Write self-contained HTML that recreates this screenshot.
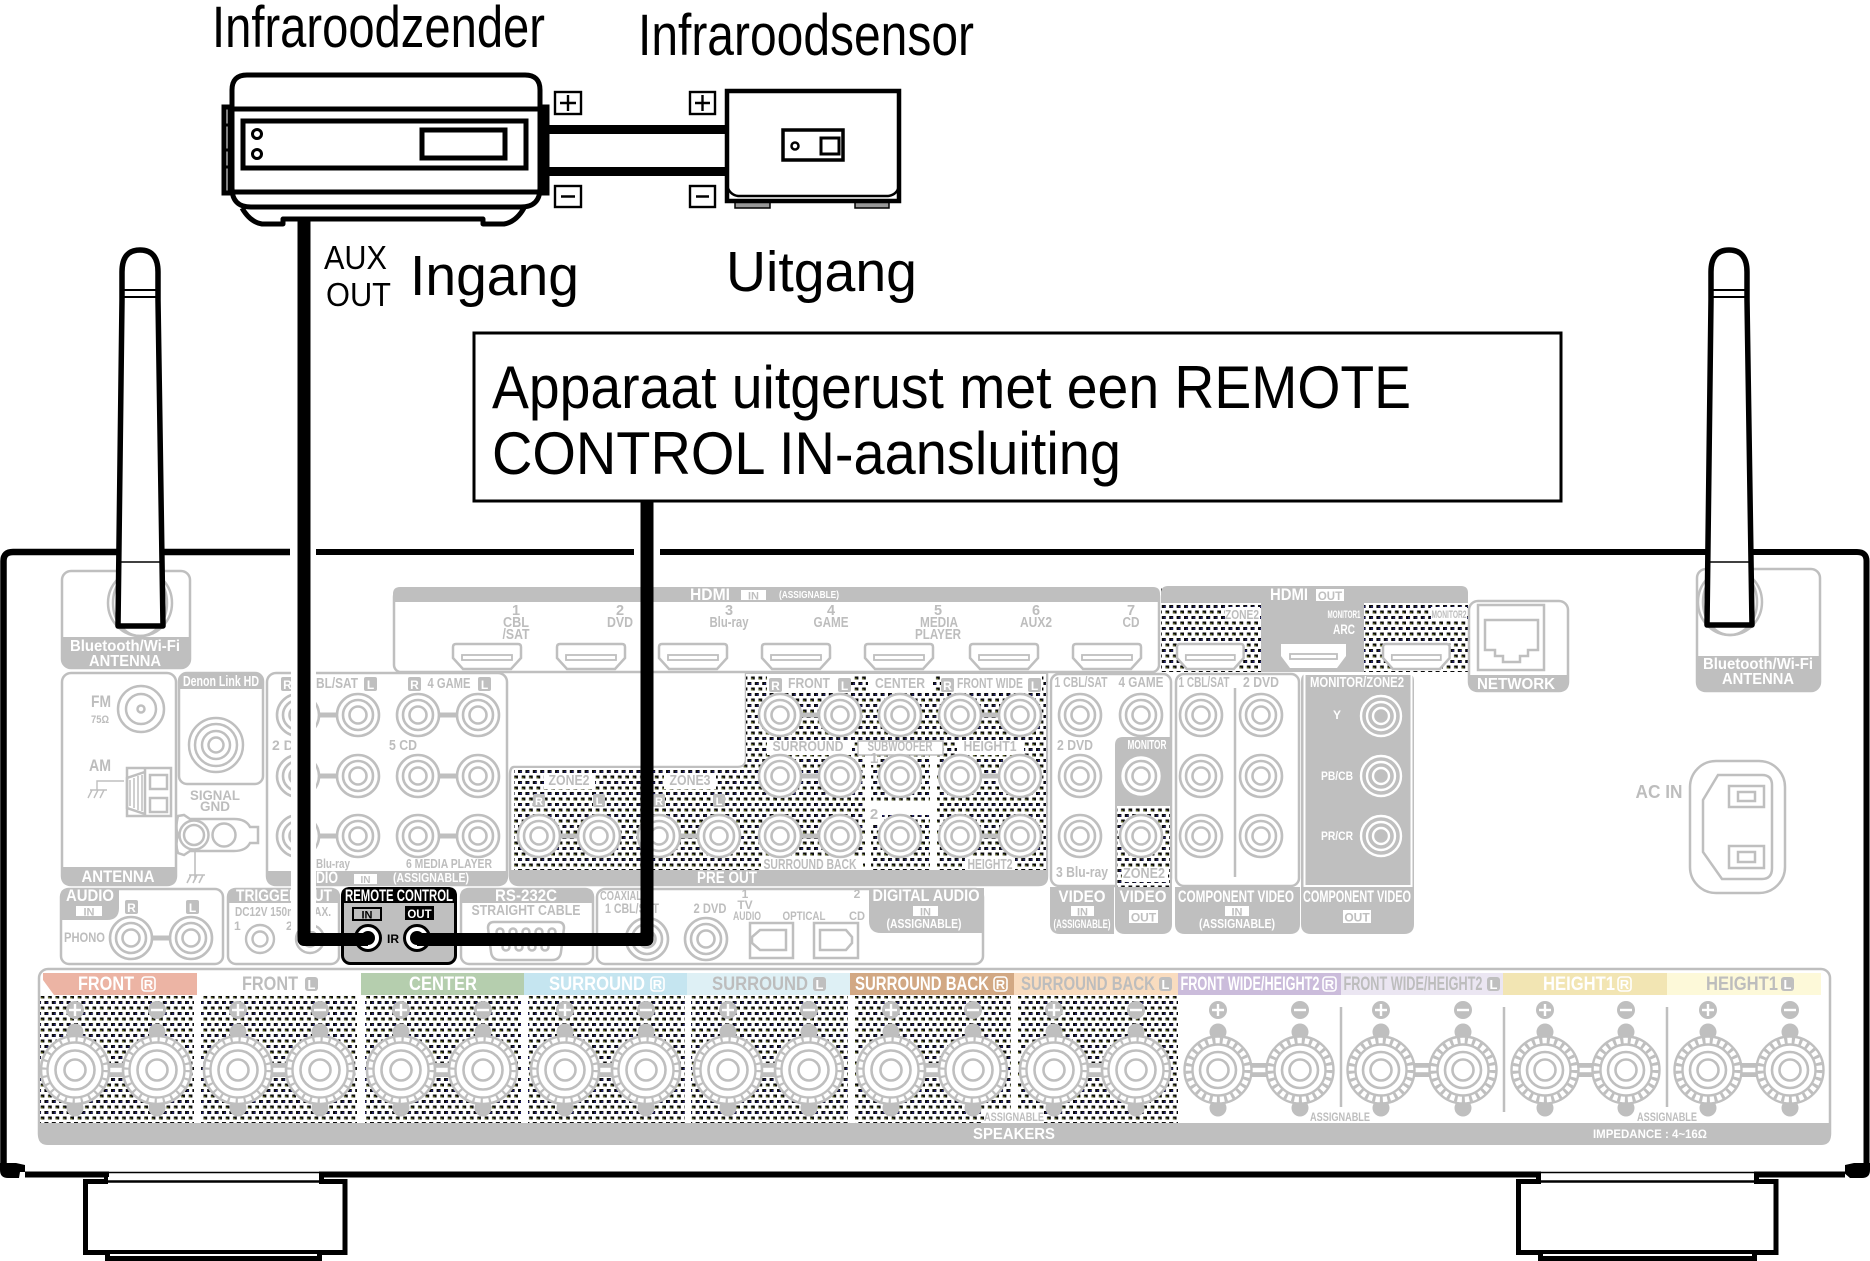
<!DOCTYPE html>
<html><head><meta charset="utf-8"><title>Infrarood aansluiting</title>
<style>
html,body{margin:0;padding:0;background:#fff}
svg{display:block;font-family:"Liberation Sans",sans-serif}
.k{fill:#000}
.g{fill:#bdbdbd;font-weight:bold}
.w{fill:#fff;font-weight:bold}
.m{text-anchor:middle}
.p{fill:#fff;stroke:#bfbfbf;stroke-width:2.5}
.f{fill:#bfbfbf}
.l{fill:none;stroke:#bfbfbf;stroke-width:2.5}
.b{fill:none;stroke:#000;stroke-width:5}
</style></head><body>
<svg xmlns="http://www.w3.org/2000/svg" width="1870" height="1261" viewBox="0 0 1870 1261">
<defs>
<pattern id="h" width="7.4" height="11" patternUnits="userSpaceOnUse">
<rect width="7.4" height="11" fill="#fff"/>
<rect x="0" y="0" width="4" height="3" fill="#0a0a0a"/>
<rect x="3.7" y="5.5" width="3.7" height="3" fill="#0a0a0a"/>
<rect x="2" y="1" width="1.6" height="1.6" fill="#22227a"/>
<rect x="4" y="7.200" width="1.6" height="1.2" fill="#6e7a20"/>
</pattern>
<g id="j"><circle r="21" fill="#fff" stroke="#bfbfbf" stroke-width="2.6"/><circle r="15" fill="none" stroke="#bfbfbf" stroke-width="2.6"/><circle r="8.5" fill="none" stroke="#bfbfbf" stroke-width="2.6"/></g>
<g id="sa">
<circle cy="-38" r="8.5" fill="#bfbfbf"/><circle cy="38" r="8.5" fill="#bfbfbf"/>
<circle r="34" fill="#fff" stroke="#bfbfbf" stroke-width="2.6"/>
<circle r="30.5" fill="none" stroke="#bfbfbf" stroke-width="5" stroke-dasharray="2.2 5.8"/>
<circle r="27.5" fill="#fff" stroke="#bfbfbf" stroke-width="2.4"/>
<circle r="19.5" fill="none" stroke="#bfbfbf" stroke-width="2.6"/>
<circle r="10.5" fill="none" stroke="#bfbfbf" stroke-width="2.6"/>
</g>
<g id="sb">
<circle cy="-38" r="8.5" fill="#bfbfbf"/><circle cy="38" r="8.5" fill="#bfbfbf"/>
<circle r="33.5" fill="#fff" stroke="#bfbfbf" stroke-width="2.4"/>
<circle r="29.5" fill="none" stroke="#bfbfbf" stroke-width="6" stroke-dasharray="3 4.4"/>
<circle r="25.5" fill="#fff" stroke="#bfbfbf" stroke-width="2.4"/>
<circle r="18" fill="none" stroke="#bfbfbf" stroke-width="2.6"/>
<circle r="10.5" fill="none" stroke="#bfbfbf" stroke-width="2.6"/>
</g>
<g id="pl"><circle r="9" fill="#bfbfbf"/><rect x="-6" y="-1.2" width="12" height="2.4" fill="#fff"/><rect x="-1.2" y="-6" width="2.4" height="12" fill="#fff"/></g>
<g id="mi"><circle r="9" fill="#bfbfbf"/><rect x="-6" y="-1.2" width="12" height="2.4" fill="#fff"/></g>
<g id="hd"><path class="p" d="M0,3Q0,0 3,0H65Q68,0 68,3V14L58,25H10L0,14Z"/><rect x="9" y="11" width="50" height="5" fill="#fff" stroke="#bfbfbf" stroke-width="1.8"/></g>
<g id="br"><rect x="-12" y="-2.5" width="24" height="5" fill="#bfbfbf"/></g>
<g id="sbr"><rect x="-12" y="-7" width="24" height="14" fill="#bfbfbf"/><rect x="-9" y="-2.2" width="18" height="4.4" fill="#fff"/></g>
</defs>
<rect width="1870" height="1261" fill="#fff"/>

<!-- Bluetooth panels -->
<rect class="p" x="62" y="571" width="128" height="97" rx="9"/>
<path class="f" d="M62,637H190V659Q190,668 181,668H71Q62,668 62,659Z"/>
<ellipse class="l" cx="140" cy="603" rx="32" ry="33"/><ellipse class="l" cx="140" cy="603" rx="27" ry="33"/>
<text class="w m" x="125" y="651" font-size="16" textLength="110" lengthAdjust="spacingAndGlyphs">Bluetooth/Wi-Fi</text>
<text class="w m" x="125" y="666" font-size="16" textLength="72" lengthAdjust="spacingAndGlyphs">ANTENNA</text>
<rect class="p" x="1697" y="569" width="123" height="122" rx="9"/>
<path class="f" d="M1696,656H1820V682Q1820,692 1810,692H1706Q1696,692 1696,682Z"/>
<ellipse class="l" cx="1730" cy="602" rx="32" ry="33"/><ellipse class="l" cx="1730" cy="602" rx="27" ry="33"/>
<text class="w m" x="1758" y="669" font-size="16" textLength="110" lengthAdjust="spacingAndGlyphs">Bluetooth/Wi-Fi</text>
<text class="w m" x="1758" y="684" font-size="16" textLength="72" lengthAdjust="spacingAndGlyphs">ANTENNA</text>

<!-- Antenna block -->
<rect class="p" x="62" y="673" width="114" height="212" rx="9"/>
<path class="f" d="M61,867H177V876Q177,886 167,886H71Q61,886 61,876Z"/>
<text class="w m" x="118" y="882" font-size="17" textLength="73" lengthAdjust="spacingAndGlyphs">ANTENNA</text>
<text class="g m" x="101" y="707" font-size="16.500" textLength="20" lengthAdjust="spacingAndGlyphs">FM</text>
<text class="g m" x="100" y="723" font-size="11" textLength="18" lengthAdjust="spacingAndGlyphs">75Ω</text>
<circle class="l" cx="141" cy="709" r="23"/><circle class="l" cx="141" cy="709" r="15"/><circle class="l" cx="141" cy="709" r="3.5"/>
<text class="g m" x="100" y="771" font-size="16.500" textLength="22" lengthAdjust="spacingAndGlyphs">AM</text>
<path d="M124,781H97V790M90,790H107M92,790L88,798M98,790L94,798M104,790L100,798" fill="none" stroke="#bfbfbf" stroke-width="1.4"/>
<rect class="l" x="127" y="768" width="44" height="48" fill="#fff"/>
<path class="l" d="M127,778L145,772V814L127,808ZM145,768V816"/>
<path d="M130,780V806M134,778V808M138,776V810M142,775V811" stroke="#bfbfbf" stroke-width="1.5"/>
<rect class="l" x="150" y="775" width="17" height="14"/><rect class="l" x="150" y="798" width="17" height="14"/>

<!-- Denon Link -->
<rect class="p" x="179" y="673" width="84" height="111" rx="8"/>
<path class="f" d="M179,681Q179,672 188,672H254Q263,672 263,681V689H179Z"/>
<text class="w m" x="221" y="686" font-size="15" textLength="76" lengthAdjust="spacingAndGlyphs">Denon Link HD</text>
<circle class="l" cx="216" cy="745" r="27"/><circle class="l" cx="216" cy="745" r="21"/><circle class="l" cx="216" cy="745" r="14"/><circle class="l" cx="216" cy="745" r="7.5"/>
<text class="g m" x="215" y="800" font-size="14" textLength="50" lengthAdjust="spacingAndGlyphs">SIGNAL</text>
<text class="g m" x="215" y="811" font-size="14" textLength="30" lengthAdjust="spacingAndGlyphs">GND</text>
<path class="p" d="M178,816Q175,828 178,835Q175,844 178,853L184,855L190,851H234Q246,851 250,843H258V827H250Q246,819 234,819H190L184,815Z"/>
<circle class="l" cx="194" cy="835" r="14.500"/><circle class="l" cx="194" cy="835" r="10"/><circle class="l" cx="224" cy="835" r="11.5"/>
<path d="M195,850V880M189,875H205M191,875L187,883M197,875L193,883M203,875L199,883" fill="none" stroke="#bfbfbf" stroke-width="1.6"/>

<!-- Analog audio -->
<rect class="p" x="267" y="673" width="240" height="212" rx="9"/>
<path class="f" d="M266,871H508V876Q508,886 498,886H276Q266,886 266,876Z"/>
<rect class="f" x="281" y="677" width="13" height="14" rx="2"/><text class="w m" x="287.500" y="689" font-size="12">R</text>
<text class="g" x="316" y="688" font-size="14.500" textLength="42" lengthAdjust="spacingAndGlyphs">BL/SAT</text>
<rect class="f" x="364" y="677" width="13" height="14" rx="2"/><text class="w m" x="370.500" y="689" font-size="12">L</text>
<rect class="f" x="408" y="677" width="13" height="14" rx="2"/><text class="w m" x="414.500" y="689" font-size="12">R</text>
<text class="g m" x="449" y="688" font-size="14.500" textLength="43" lengthAdjust="spacingAndGlyphs">4 GAME</text>
<rect class="f" x="478" y="677" width="13" height="14" rx="2"/><text class="w m" x="484.500" y="689" font-size="12">L</text>
<text class="g" x="272" y="750" font-size="14">2 DVD</text>
<text class="g m" x="403" y="750" font-size="14.500" textLength="28" lengthAdjust="spacingAndGlyphs">5 CD</text>
<text class="g" x="316" y="868" font-size="13" textLength="34" lengthAdjust="spacingAndGlyphs">Blu-ray</text>
<text class="g m" x="449" y="868" font-size="13" textLength="86" lengthAdjust="spacingAndGlyphs">6 MEDIA PLAYER</text>
<text class="w" x="316" y="883" font-size="16.500" textLength="22" lengthAdjust="spacingAndGlyphs">DIO</text>
<rect x="354" y="874" width="23" height="10" fill="#fff"/><text class="f m" x="365.5" y="883" font-size="10" font-weight="bold">IN</text>
<text class="w m" x="431" y="882" font-size="13" textLength="76" lengthAdjust="spacingAndGlyphs">(ASSIGNABLE)</text>
<use href="#br" x="328" y="715"/><use href="#br" x="328" y="776"/><use href="#br" x="328" y="836"/>
<use href="#br" x="448" y="715"/><use href="#br" x="448" y="776"/><use href="#br" x="448" y="836"/>
<use href="#j" x="298" y="715"/><use href="#j" x="358" y="715"/><use href="#j" x="418" y="715"/><use href="#j" x="478" y="715"/>
<use href="#j" x="298" y="776"/><use href="#j" x="358" y="776"/><use href="#j" x="418" y="776"/><use href="#j" x="478" y="776"/>
<use href="#j" x="298" y="836"/><use href="#j" x="358" y="836"/><use href="#j" x="418" y="836"/><use href="#j" x="478" y="836"/>

<!-- HDMI IN -->
<rect class="p" x="394" y="590" width="765" height="82" rx="7"/>
<path class="f" d="M393,594Q393,587 400,587H1153Q1160,587 1160,594V602H393Z"/>
<text class="w m" x="710" y="600" font-size="17" textLength="40" lengthAdjust="spacingAndGlyphs">HDMI</text>
<rect x="741" y="590" width="25" height="10" fill="#fff"/><text class="f m" x="753.5" y="599.500" font-size="11" font-weight="bold">IN</text>
<text class="w" x="779" y="598" font-size="10.500" textLength="60" lengthAdjust="spacingAndGlyphs">(ASSIGNABLE)</text>
<g font-size="14.500" text-anchor="middle">
<text class="g" x="516" y="615">1</text><text class="g" x="516" y="627" textLength="26" lengthAdjust="spacingAndGlyphs">CBL</text><text class="g" x="516" y="639" textLength="27" lengthAdjust="spacingAndGlyphs">/SAT</text>
<text class="g" x="620" y="615">2</text><text class="g" x="620" y="627" textLength="26" lengthAdjust="spacingAndGlyphs">DVD</text>
<text class="g" x="729" y="615">3</text><text class="g" x="729" y="627" textLength="39" lengthAdjust="spacingAndGlyphs">Blu-ray</text>
<text class="g" x="831" y="615">4</text><text class="g" x="831" y="627" textLength="35" lengthAdjust="spacingAndGlyphs">GAME</text>
<text class="g" x="938" y="615">5</text><text class="g" x="939" y="627" textLength="38" lengthAdjust="spacingAndGlyphs">MEDIA</text><text class="g" x="938" y="639" textLength="46" lengthAdjust="spacingAndGlyphs">PLAYER</text>
<text class="g" x="1036" y="615">6</text><text class="g" x="1036" y="627" textLength="32" lengthAdjust="spacingAndGlyphs">AUX2</text>
<text class="g" x="1131" y="615">7</text><text class="g" x="1131" y="627" textLength="17" lengthAdjust="spacingAndGlyphs">CD</text>
</g>
<use href="#hd" x="453" y="644"/><use href="#hd" x="557" y="644"/><use href="#hd" x="659" y="644"/><use href="#hd" x="762" y="644"/><use href="#hd" x="865" y="644"/><use href="#hd" x="970" y="644"/><use href="#hd" x="1073" y="644"/>

<!-- HDMI OUT -->
<rect x="1161" y="587" width="307" height="85" fill="url(#h)"/>
<path class="f" d="M1161,593Q1161,586 1168,586H1461Q1468,586 1468,593V603H1161Z"/>
<rect class="f" x="1261" y="603" width="103" height="69"/>
<text class="w m" x="1289" y="600" font-size="17" textLength="38" lengthAdjust="spacingAndGlyphs">HDMI</text>
<rect x="1316" y="589" width="28" height="12" fill="#fff"/><text class="f m" x="1330" y="600" font-size="11.500" font-weight="bold">OUT</text>
<rect x="1225" y="607" width="35" height="14" fill="#fff"/><text class="g m" x="1242" y="619" font-size="13" textLength="34" lengthAdjust="spacingAndGlyphs">ZONE2</text>
<text class="w m" x="1344" y="618" font-size="11" textLength="33" lengthAdjust="spacingAndGlyphs">MONITOR1</text>
<text class="w m" x="1344" y="634" font-size="13.500" textLength="22" lengthAdjust="spacingAndGlyphs">ARC</text>
<rect x="1431" y="607" width="36" height="14" fill="#fff"/><text class="g m" x="1449" y="618" font-size="11" textLength="35" lengthAdjust="spacingAndGlyphs">MONITOR2</text>
<g transform="translate(1177,644) scale(.98,1)"><use href="#hd"/></g>
<path d="M1281,644H1346V656L1337,668H1290L1281,656Z" fill="#fff"/><rect x="1290" y="654" width="47" height="5" fill="#fff" stroke="#bfbfbf" stroke-width="1.8"/>
<g transform="translate(1383,644) scale(.98,1)"><use href="#hd"/></g>

<!-- Network -->
<rect class="p" x="1469" y="601" width="99" height="90" rx="9"/>
<path class="f" d="M1468,675H1569V682Q1569,692 1559,692H1478Q1468,692 1468,682Z"/>
<text class="w m" x="1516" y="689" font-size="16" textLength="78" lengthAdjust="spacingAndGlyphs">NETWORK</text>
<rect class="l" x="1478" y="605" width="66" height="65" stroke-width="2"/>
<path class="l" d="M1485,620H1538V650H1528V656H1520V662H1503V656H1495V650H1485Z"/>

<!-- Pre out -->
<path class="p" d="M514,767H738Q746,767 746,759V674H1047V876Q1047,885 1038,885H520Q510,885 510,876V775Q510,767 514,767Z"/>
<path d="M514,768H738Q746,768 746,760V674H1046V870H514Z" fill="url(#h)"/>
<path class="f" d="M510,870H1048V877Q1048,886 1039,886H519Q510,886 510,877Z"/>
<text class="w m" x="727" y="883" font-size="17" textLength="60" lengthAdjust="spacingAndGlyphs">PRE OUT</text>
<g fill="#fff">
<rect x="767" y="676" width="84" height="17"/><rect x="868" y="676" width="65" height="17"/><rect x="941" y="676" width="101" height="17"/>
<rect x="767" y="740" width="85" height="15"/><rect x="957" y="740" width="67" height="15"/>
<rect x="761" y="858" width="102" height="12"/><rect x="965" y="858" width="50" height="12"/>
<rect x="865" y="752" width="6" height="118"/><rect x="930" y="752" width="7" height="118"/>
<rect x="869" y="803" width="62" height="12"/><rect x="865" y="752" width="12" height="13"/><rect x="868" y="808" width="14" height="16"/>
<rect x="544" y="774" width="51" height="15"/><rect x="664" y="774" width="52" height="15"/>
</g>
<rect x="858" y="741" width="85" height="14" fill="#fff" stroke="#bfbfbf" stroke-width="1.5"/>
<g font-size="15" text-anchor="middle">
<rect class="f" x="769" y="678" width="13" height="14" rx="2"/><text class="w" x="775.5" y="690" font-size="12">R</text>
<text class="g" x="809" y="688" textLength="42" lengthAdjust="spacingAndGlyphs">FRONT</text>
<rect class="f" x="838" y="678" width="13" height="14" rx="2"/><text class="w" x="844.5" y="690" font-size="12">L</text>
<text class="g" x="900" y="688" textLength="50" lengthAdjust="spacingAndGlyphs">CENTER</text>
<rect class="f" x="941" y="678" width="13" height="14" rx="2"/><text class="w" x="947.5" y="690" font-size="12">R</text>
<text class="g" x="990" y="688" textLength="66" lengthAdjust="spacingAndGlyphs">FRONT WIDE</text>
<rect class="f" x="1028" y="678" width="13" height="14" rx="2"/><text class="w" x="1034.5" y="690" font-size="12">L</text>
<text class="g" x="808" y="751" textLength="71" lengthAdjust="spacingAndGlyphs">SURROUND</text>
<text class="g" x="900" y="751" textLength="65" lengthAdjust="spacingAndGlyphs">SUBWOOFER</text>
<text class="g" x="990" y="751" textLength="53" lengthAdjust="spacingAndGlyphs">HEIGHT1</text>
<text class="g" x="874" y="763">1</text><text class="g" x="874" y="819">2</text>
<text class="g" x="810" y="869" textLength="93" lengthAdjust="spacingAndGlyphs">SURROUND BACK</text>
<text class="g" x="990" y="869" textLength="45" lengthAdjust="spacingAndGlyphs">HEIGHT2</text>
<text class="g" x="569" y="785" textLength="41" lengthAdjust="spacingAndGlyphs">ZONE2</text>
<text class="g" x="690" y="785" textLength="41" lengthAdjust="spacingAndGlyphs">ZONE3</text>
</g>
<g fill="#bfbfbf"><rect x="533" y="794" width="12" height="13" rx="2"/><rect x="593" y="794" width="12" height="13" rx="2"/><rect x="653" y="794" width="12" height="13" rx="2"/><rect x="713" y="794" width="12" height="13" rx="2"/></g>
<g font-size="11" text-anchor="middle"><text class="w" x="539" y="805">R</text><text class="w" x="599" y="805">L</text><text class="w" x="659" y="805">R</text><text class="w" x="719" y="805">L</text></g>
<use href="#br" x="810" y="715"/><use href="#br" x="990" y="715"/><use href="#br" x="810" y="776"/><use href="#br" x="990" y="776"/><use href="#br" x="810" y="836"/><use href="#br" x="990" y="836"/><use href="#br" x="569" y="836"/><use href="#br" x="689" y="836"/>
<use href="#j" x="780" y="715"/><use href="#j" x="840" y="715"/><use href="#j" x="900" y="715"/><use href="#j" x="960" y="715"/><use href="#j" x="1020" y="715"/>
<use href="#j" x="780" y="776"/><use href="#j" x="840" y="776"/><use href="#j" x="900" y="776"/><use href="#j" x="960" y="776"/><use href="#j" x="1020" y="776"/>
<use href="#j" x="780" y="836"/><use href="#j" x="840" y="836"/><use href="#j" x="900" y="836"/><use href="#j" x="960" y="836"/><use href="#j" x="1020" y="836"/>
<use href="#j" x="539" y="836"/><use href="#j" x="599" y="836"/><use href="#j" x="659" y="836"/><use href="#j" x="719" y="836"/>

<!-- Video -->
<rect class="p" x="1051" y="674" width="120" height="212" rx="8"/>
<path class="f" d="M1050,887H1114V934H1060Q1050,934 1050,924Z"/>
<path class="f" d="M1115,745Q1115,737 1123,737H1172V924Q1172,934 1162,934H1125Q1115,934 1115,924Z"/>
<rect x="1117" y="806" width="53" height="81" fill="url(#h)"/>
<rect x="1122" y="868" width="46" height="14" fill="#fff"/>
<g font-size="14.500" text-anchor="middle">
<text class="g" x="1081" y="687" textLength="53" lengthAdjust="spacingAndGlyphs">1 CBL/SAT</text>
<text class="g" x="1141" y="687" textLength="45" lengthAdjust="spacingAndGlyphs">4 GAME</text>
<text class="g" x="1075" y="750" textLength="36" lengthAdjust="spacingAndGlyphs">2 DVD</text>
<text class="g" x="1082" y="877" textLength="52" lengthAdjust="spacingAndGlyphs">3 Blu-ray</text>
<text class="w" x="1147" y="749" font-size="12.500" textLength="39" lengthAdjust="spacingAndGlyphs">MONITOR</text>
<text class="g" x="1144" y="878" textLength="42" lengthAdjust="spacingAndGlyphs">ZONE2</text>
<text class="w" x="1082" y="902" font-size="17" textLength="47" lengthAdjust="spacingAndGlyphs">VIDEO</text>
<text class="w" x="1143" y="902" font-size="17" textLength="47" lengthAdjust="spacingAndGlyphs">VIDEO</text>
<text class="w" x="1082" y="928" font-size="11.500" textLength="57" lengthAdjust="spacingAndGlyphs">(ASSIGNABLE)</text>
</g>
<rect x="1071" y="906" width="23" height="10" fill="#fff"/><text class="f m" x="1082.5" y="915.500" font-size="11" font-weight="bold">IN</text>
<rect x="1129" y="910" width="29" height="13" fill="#fff"/><text class="f m" x="1143.5" y="921.500" font-size="12" font-weight="bold">OUT</text>
<use href="#j" x="1080" y="715"/><use href="#j" x="1141" y="715"/><use href="#j" x="1080" y="776"/><use href="#j" x="1080" y="836"/><use href="#j" x="1141" y="776"/><use href="#j" x="1141" y="836"/>

<!-- Component in -->
<rect class="p" x="1176" y="674" width="123" height="212" rx="8"/>
<path class="f" d="M1175,887H1300V924Q1300,934 1290,934H1185Q1175,934 1175,924Z"/>
<path class="l" d="M1235,688V877" stroke-width="1.8"/>
<text class="g m" x="1204" y="687" font-size="14.500" textLength="51" lengthAdjust="spacingAndGlyphs">1 CBL/SAT</text>
<text class="g m" x="1261" y="687" font-size="14.500" textLength="36" lengthAdjust="spacingAndGlyphs">2 DVD</text>
<text class="w m" x="1236" y="902" font-size="16.500" textLength="116" lengthAdjust="spacingAndGlyphs">COMPONENT VIDEO</text>
<rect x="1225" y="906" width="24" height="10" fill="#fff"/><text class="f m" x="1237" y="915.500" font-size="11" font-weight="bold">IN</text>
<text class="w m" x="1237" y="928" font-size="13" textLength="76" lengthAdjust="spacingAndGlyphs">(ASSIGNABLE)</text>
<use href="#j" x="1201" y="715"/><use href="#j" x="1261" y="715"/><use href="#j" x="1201" y="776"/><use href="#j" x="1261" y="776"/><use href="#j" x="1201" y="836"/><use href="#j" x="1261" y="836"/>

<!-- Component out -->
<path class="f" d="M1301,681Q1301,673 1309,673H1406Q1414,673 1414,681V924Q1414,934 1404,934H1311Q1301,934 1301,924Z"/>
<rect x="1304.5" y="674" width="107" height="212" fill="none" stroke="#fff" stroke-width="2"/>
<text class="w m" x="1357" y="687" font-size="14.500" textLength="94" lengthAdjust="spacingAndGlyphs">MONITOR/ZONE2</text>
<text class="w m" x="1337" y="719" font-size="12">Y</text>
<text class="w m" x="1337" y="780" font-size="12" textLength="32" lengthAdjust="spacingAndGlyphs">PB/CB</text>
<text class="w m" x="1337" y="840" font-size="12" textLength="32" lengthAdjust="spacingAndGlyphs">PR/CR</text>
<text class="w m" x="1357" y="902" font-size="16.500" textLength="108" lengthAdjust="spacingAndGlyphs">COMPONENT VIDEO</text>
<rect x="1343" y="910" width="28" height="13" fill="#fff"/><text class="f m" x="1357" y="921.500" font-size="12" font-weight="bold">OUT</text>
<g fill="#bfbfbf" stroke="#fff" stroke-width="2.4"><circle cx="1381" cy="716" r="20"/><circle cx="1381" cy="716" r="14"/><circle cx="1381" cy="716" r="8"/><circle cx="1381" cy="776" r="20"/><circle cx="1381" cy="776" r="14"/><circle cx="1381" cy="776" r="8"/><circle cx="1381" cy="836" r="20"/><circle cx="1381" cy="836" r="14"/><circle cx="1381" cy="836" r="8"/></g>

<!-- AC in -->
<text class="g m" x="1659" y="798" font-size="18" textLength="47" lengthAdjust="spacingAndGlyphs">AC IN</text>
<rect class="l" x="1690" y="761" width="95" height="132" rx="26"/>
<path class="l" d="M1718,775H1762Q1772,775 1772,785V868Q1772,879 1762,879H1722L1703,852V800Z"/>
<rect class="l" x="1729" y="786" width="35" height="21"/><rect class="l" x="1738" y="792" width="17" height="9"/>
<rect class="l" x="1729" y="846" width="35" height="22"/><rect class="l" x="1738" y="852" width="17" height="10"/>

<!-- Lower row -->
<rect class="p" x="61" y="889" width="162" height="75" rx="8"/>
<path class="f" d="M60,897Q60,888 69,888H119V908Q119,920 107,920H60Z"/>
<text class="w m" x="90" y="901" font-size="17" textLength="48" lengthAdjust="spacingAndGlyphs">AUDIO</text>
<rect x="76" y="906" width="26" height="10" fill="#fff"/><text class="f m" x="89" y="915.500" font-size="11" font-weight="bold">IN</text>
<rect class="f" x="125" y="900" width="13" height="14" rx="2"/><text class="w m" x="131.500" y="912" font-size="12">R</text>
<rect class="f" x="186" y="900" width="13" height="14" rx="2"/><text class="w m" x="192.500" y="912" font-size="12">L</text>
<text class="g" x="64" y="942" font-size="13.500" textLength="41" lengthAdjust="spacingAndGlyphs">PHONO</text>
<use href="#br" x="161" y="938"/><use href="#j" x="131" y="938"/><use href="#j" x="191" y="938"/>

<rect class="p" x="228" y="889" width="111" height="75" rx="8"/>
<path class="f" d="M227,897Q227,888 236,888H331Q340,888 340,897V903H227Z"/>
<text class="w" x="236" y="901" font-size="17" textLength="96" lengthAdjust="spacingAndGlyphs">TRIGGER OUT</text>
<text class="g" x="235" y="916" font-size="13" textLength="96" lengthAdjust="spacingAndGlyphs">DC12V 150mA MAX.</text>
<text class="g" x="234" y="930" font-size="12">1</text><text class="g" x="286" y="930" font-size="12">2</text>
<circle cx="260" cy="939" r="14" fill="#fff" stroke="#bfbfbf" stroke-width="2.4"/><circle cx="260" cy="939" r="7.5" fill="none" stroke="#bfbfbf" stroke-width="2.4"/>
<circle cx="310" cy="939" r="14" fill="#fff" stroke="#bfbfbf" stroke-width="2.4"/><circle cx="310" cy="939" r="7.5" fill="none" stroke="#bfbfbf" stroke-width="2.4"/>

<rect class="p" x="461" y="889" width="132" height="75" rx="8"/>
<path class="f" d="M460,897Q460,888 469,888H585Q594,888 594,897V903H460Z"/>
<text class="w m" x="526" y="901" font-size="17" textLength="62" lengthAdjust="spacingAndGlyphs">RS-232C</text>
<text class="g m" x="526" y="915" font-size="14.500" textLength="109" lengthAdjust="spacingAndGlyphs">STRAIGHT CABLE</text>
<path class="l" d="M494,922H558Q564,922 564,928L561,952Q560,960 552,960H500Q492,960 491,952L488,928Q488,922 494,922Z"/>
<g class="l"><circle cx="500" cy="932" r="3.5"/><circle cx="513" cy="932" r="3.5"/><circle cx="526" cy="932" r="3.5"/><circle cx="539" cy="932" r="3.5"/><circle cx="552" cy="932" r="3.5"/><circle cx="506" cy="947" r="3.5"/><circle cx="519" cy="947" r="3.5"/><circle cx="532" cy="947" r="3.5"/><circle cx="545" cy="947" r="3.5"/></g>

<rect class="p" x="597" y="889" width="386" height="75" rx="8"/>
<path class="f" d="M869,888H984V933H881Q869,933 869,921Z"/>
<text class="w m" x="926" y="901" font-size="17" textLength="107" lengthAdjust="spacingAndGlyphs">DIGITAL AUDIO</text>
<rect x="913" y="906" width="25" height="10" fill="#fff"/><text class="f m" x="925.5" y="915.500" font-size="11" font-weight="bold">IN</text>
<text class="w m" x="924" y="928" font-size="13" textLength="75" lengthAdjust="spacingAndGlyphs">(ASSIGNABLE)</text>
<text class="g" x="600" y="900" font-size="12.500" textLength="42" lengthAdjust="spacingAndGlyphs">COAXIAL</text>
<text class="g" x="605" y="913" font-size="13.500" textLength="54" lengthAdjust="spacingAndGlyphs">1 CBL/SAT</text>
<text class="g m" x="710" y="913" font-size="13.500" textLength="33" lengthAdjust="spacingAndGlyphs">2 DVD</text>
<text class="g m" x="745" y="898" font-size="12">1</text><text class="g m" x="745" y="909" font-size="12">TV</text><text class="g m" x="747" y="920" font-size="12" textLength="28" lengthAdjust="spacingAndGlyphs">AUDIO</text>
<text class="g m" x="804" y="920" font-size="12" textLength="43" lengthAdjust="spacingAndGlyphs">OPTICAL</text>
<text class="g m" x="857" y="898" font-size="12">2</text><text class="g m" x="857" y="920" font-size="12" textLength="16" lengthAdjust="spacingAndGlyphs">CD</text>
<use href="#j" x="647" y="939"/><use href="#j" x="706" y="939"/>
<rect class="l" x="750" y="923" width="43" height="35"/><path class="l" d="M760,930H786V950H760L752,943V937Z" stroke-width="1.8"/>
<rect class="l" x="814" y="923" width="44" height="35"/><path class="l" d="M820,930H846L852,937V943L846,950H820Z" stroke-width="1.8"/>

<!-- Remote control -->
<rect x="342.5" y="888.5" width="113" height="75" rx="8" fill="#bfbfbf" stroke="#000" stroke-width="3"/>
<path d="M341,896Q341,887 350,887H448Q457,887 457,896V903H341Z" fill="#000"/>
<text x="399" y="901" font-size="17" font-weight="bold" fill="#fff" text-anchor="middle" textLength="108" lengthAdjust="spacingAndGlyphs">REMOTE CONTROL</text>
<rect x="353" y="908" width="28" height="12" fill="#bfbfbf" stroke="#000" stroke-width="2"/><text x="367" y="918.5" font-size="11" font-weight="bold" text-anchor="middle">IN</text>
<rect x="405" y="906" width="29" height="14" fill="#000"/><text x="419.5" y="918" font-size="11.5" font-weight="bold" fill="#fff" text-anchor="middle">OUT</text>
<text x="393" y="943" font-size="12" font-weight="bold" text-anchor="middle">IR</text>
<circle cx="368" cy="938" r="12.5" fill="#fff" stroke="#000" stroke-width="3"/><circle cx="368" cy="938" r="7" fill="#000"/>
<circle cx="417" cy="938" r="12.5" fill="#fff" stroke="#000" stroke-width="3"/><circle cx="417" cy="938" r="7" fill="#000"/>

<!-- Speakers -->
<rect class="p" x="39" y="969" width="1791" height="174" rx="9"/>
<path class="f" d="M38,1123H1831V1135Q1831,1145 1821,1145H48Q38,1145 38,1135Z"/>
<path d="M43,973H197V995H54L43,980Z" fill="#ecb4a4"/>
<rect x="361" y="973" width="163" height="22" fill="#b5ceae"/>
<rect x="524" y="973" width="163" height="22" fill="#c5e5f0"/>
<rect x="687" y="973" width="163" height="22" fill="#def0f5"/>
<rect x="850" y="973" width="164" height="22" fill="#d2a883"/>
<rect x="1014" y="973" width="164" height="22" fill="#f9dcbf"/>
<rect x="1178" y="973" width="163" height="22" fill="#cbbcdb"/>
<rect x="1341" y="973" width="162" height="22" fill="#ebe6f2"/>
<rect x="1503" y="973" width="164" height="22" fill="#f2e5b3"/>
<rect x="1667" y="973" width="154" height="22" fill="#fdf9d9"/>
<g fill="url(#h)">
<rect x="40" y="996" width="154" height="127"/><rect x="201" y="996" width="156" height="127"/><rect x="365" y="996" width="156" height="127"/><rect x="528" y="996" width="157" height="127"/><rect x="691" y="996" width="157" height="127"/><rect x="855" y="996" width="156" height="127"/><rect x="1018" y="996" width="160" height="127"/>
</g>
<g font-size="19" text-anchor="middle" font-weight="bold">
<text class="w" x="106" y="990" textLength="56" lengthAdjust="spacingAndGlyphs">FRONT</text>
<text class="g" x="270" y="990" textLength="56" lengthAdjust="spacingAndGlyphs">FRONT</text>
<text class="w" x="443" y="990" textLength="68" lengthAdjust="spacingAndGlyphs">CENTER</text>
<text class="w" x="597" y="990" textLength="96" lengthAdjust="spacingAndGlyphs">SURROUND</text>
<text class="g" x="760" y="990" textLength="96" lengthAdjust="spacingAndGlyphs">SURROUND</text>
<text class="w" x="922" y="990" textLength="134" lengthAdjust="spacingAndGlyphs">SURROUND BACK</text>
<text class="g" x="1088" y="990" textLength="134" lengthAdjust="spacingAndGlyphs">SURROUND BACK</text>
<text class="w" x="1250" y="990" textLength="139" lengthAdjust="spacingAndGlyphs">FRONT WIDE/HEIGHT2</text>
<text class="g" x="1413" y="990" textLength="139" lengthAdjust="spacingAndGlyphs">FRONT WIDE/HEIGHT2</text>
<text class="w" x="1579" y="990" textLength="72" lengthAdjust="spacingAndGlyphs">HEIGHT1</text>
<text class="g" x="1742" y="990" textLength="72" lengthAdjust="spacingAndGlyphs">HEIGHT1</text>
</g>
<g fill="none" stroke-width="1.6">
<rect x="142" y="977" width="13" height="14" rx="3" stroke="#fff"/><rect x="305" y="977" width="13" height="14" rx="3" fill="#bfbfbf"/>
<rect x="651" y="977" width="13" height="14" rx="3" stroke="#fff"/><rect x="813" y="977" width="13" height="14" rx="3" fill="#bfbfbf"/>
<rect x="994" y="977" width="13" height="14" rx="3" stroke="#fff"/><rect x="1159" y="977" width="13" height="14" rx="3" fill="#bfbfbf"/>
<rect x="1323" y="977" width="13" height="14" rx="3" stroke="#fff"/><rect x="1487" y="977" width="13" height="14" rx="3" fill="#bfbfbf"/>
<rect x="1618" y="977" width="13" height="14" rx="3" stroke="#fff"/><rect x="1781" y="977" width="13" height="14" rx="3" fill="#bfbfbf"/>
</g>
<g font-size="13" text-anchor="middle" font-weight="bold">
<text class="w" x="148.5" y="989">R</text><text class="w" x="311.5" y="989">L</text><text class="w" x="657.5" y="989">R</text><text class="w" x="819.5" y="989">L</text><text class="w" x="1000.5" y="989">R</text><text class="w" x="1165.5" y="989">L</text><text class="w" x="1329.5" y="989">R</text><text class="w" x="1493.5" y="989">L</text><text class="w" x="1624.5" y="989">R</text><text class="w" x="1787.5" y="989">L</text>
</g>
<path d="M1341,1007V1107M1504,1007V1112M1667,1007V1107" class="l" stroke-width="1.8"/>
<g>
<use href="#sbr" x="116" y="1070"/><use href="#sbr" x="279" y="1070"/><use href="#sbr" x="442" y="1070"/><use href="#sbr" x="605" y="1070"/><use href="#sbr" x="769" y="1070"/><use href="#sbr" x="932" y="1070"/><use href="#sbr" x="1095" y="1070"/><use href="#sbr" x="1259" y="1070"/><use href="#sbr" x="1422" y="1070"/><use href="#sbr" x="1585" y="1070"/><use href="#sbr" x="1749" y="1070"/>
<use href="#sa" x="75" y="1070"/><use href="#sa" x="157" y="1070"/><use href="#sa" x="238" y="1070"/><use href="#sa" x="320" y="1070"/><use href="#sa" x="401" y="1070"/><use href="#sa" x="483" y="1070"/><use href="#sa" x="565" y="1070"/><use href="#sa" x="646" y="1070"/><use href="#sa" x="728" y="1070"/><use href="#sa" x="809" y="1070"/><use href="#sa" x="891" y="1070"/><use href="#sa" x="973" y="1070"/><use href="#sa" x="1054" y="1070"/><use href="#sa" x="1136" y="1070"/>
<use href="#sb" x="1218" y="1070"/><use href="#sb" x="1300" y="1070"/><use href="#sb" x="1381" y="1070"/><use href="#sb" x="1463" y="1070"/><use href="#sb" x="1545" y="1070"/><use href="#sb" x="1626" y="1070"/><use href="#sb" x="1708" y="1070"/><use href="#sb" x="1790" y="1070"/>
<use href="#pl" x="75" y="1010"/><use href="#mi" x="157" y="1010"/><use href="#pl" x="238" y="1010"/><use href="#mi" x="320" y="1010"/><use href="#pl" x="401" y="1010"/><use href="#mi" x="483" y="1010"/><use href="#pl" x="565" y="1010"/><use href="#mi" x="646" y="1010"/><use href="#pl" x="728" y="1010"/><use href="#mi" x="809" y="1010"/><use href="#pl" x="891" y="1010"/><use href="#mi" x="973" y="1010"/><use href="#pl" x="1054" y="1010"/><use href="#mi" x="1136" y="1010"/>
<use href="#pl" x="1218" y="1010"/><use href="#mi" x="1300" y="1010"/><use href="#pl" x="1381" y="1010"/><use href="#mi" x="1463" y="1010"/><use href="#pl" x="1545" y="1010"/><use href="#mi" x="1626" y="1010"/><use href="#pl" x="1708" y="1010"/><use href="#mi" x="1790" y="1010"/>
</g>
<rect x="984" y="1110" width="60" height="13" fill="#fff"/>
<text class="g m" x="1014" y="1121" font-size="12" textLength="60" lengthAdjust="spacingAndGlyphs">ASSIGNABLE</text>
<text class="g m" x="1340" y="1121" font-size="12" textLength="60" lengthAdjust="spacingAndGlyphs">ASSIGNABLE</text>
<text class="g m" x="1667" y="1121" font-size="12" textLength="60" lengthAdjust="spacingAndGlyphs">ASSIGNABLE</text>
<text class="w m" x="1014" y="1139" font-size="16" textLength="82" lengthAdjust="spacingAndGlyphs">SPEAKERS</text>
<text class="w m" x="1650" y="1138" font-size="12" textLength="114" lengthAdjust="spacingAndGlyphs">IMPEDANCE : 4~16Ω</text>

<!-- Chassis -->
<rect x="291" y="556" width="25" height="375" fill="#fff"/>
<path d="M290,552H13Q3.5,552 3.5,561V1165" fill="none" stroke="#000" stroke-width="6.5"/>
<path d="M316,552H634M660,552H1857Q1866.5,552 1866.5,561V1165" fill="none" stroke="#000" stroke-width="6"/>
<path d="M0,1163H16L25,1165V1172H20L19,1178H8Q0,1178 0,1170Z" fill="#000"/>
<path d="M1870,1163H1854L1845,1165V1172H1843L1850,1178H1862Q1870,1178 1870,1170Z" fill="#000"/>
<path d="M25,1174.5H109M319,1174.5H1541M1754,1174.5H1845" fill="none" stroke="#000" stroke-width="6"/>
<path d="M109,1172.5H319M1541,1172.5H1754" stroke="#000" stroke-width="1.5"/>
<path d="M85.5,1181.5H345V1252.5H85.5Z" fill="#fff" stroke="#000" stroke-width="5"/>
<path d="M1518.5,1181.5H1776V1252.5H1518.5Z" fill="#fff" stroke="#000" stroke-width="5"/>
<path d="M104,1172H109V1184H104ZM319,1172H324V1184H319Z" fill="#000"/>
<rect x="108" y="1177" width="211" height="7" fill="#fff"/><path d="M108,1181.5H319" stroke="#000" stroke-width="2.5"/>
<path d="M1536,1172H1541V1184H1536ZM1754,1172H1759V1184H1754Z" fill="#000"/>
<rect x="1541" y="1177" width="213" height="7" fill="#fff"/><path d="M1541,1181.5H1754" stroke="#000" stroke-width="2.5"/>
<path d="M105,1250H110V1255H317V1250H322V1261H105Z" fill="#000"/><rect x="110" y="1254" width="207" height="2" fill="#fff"/>
<path d="M1538,1250H1543V1255H1752V1250H1757V1261H1538Z" fill="#000"/><rect x="1543" y="1254" width="209" height="2" fill="#fff"/>

<!-- Antennas -->
<path d="M122,300V272Q122,250 140,250Q158,250 158,272V300L163,626H118Z" fill="#fff" stroke="#000" stroke-width="5.5" stroke-linejoin="round"/>
<path d="M123,290H157M123,297H157" stroke="#000" stroke-width="2"/><path d="M120,562H161" stroke="#000" stroke-width="1.5"/>
<path d="M1711,300V272Q1711,250 1729,250Q1747,250 1747,272V300L1752,625H1707Z" fill="#fff" stroke="#000" stroke-width="5.5" stroke-linejoin="round"/>
<path d="M1712,290H1746M1712,297H1746" stroke="#000" stroke-width="2"/><path d="M1709,562H1750" stroke="#000" stroke-width="1.5"/>

<!-- Cables -->
<path d="M304,221V939.5H368" fill="none" stroke="#000" stroke-width="13" stroke-linejoin="round"/>
<path d="M647,501V939.5H417" fill="none" stroke="#000" stroke-width="13" stroke-linejoin="round"/>

<!-- Transmitter -->
<path class="b" d="M224,107H230V193H224ZM542,107H547V193H542Z" stroke-width="2"/>
<path d="M224,125H230M224,150H230M224,167H230M542,125H547M542,150H547M542,167H547" stroke="#000" stroke-width="3"/>
<path class="b" d="M232,90Q232,75 247,75H525Q540,75 540,90V188Q540,207 521,207H251Q232,207 232,188Z" fill="#fff"/>
<path class="b" d="M232,109H540M232,192H540" stroke-width="4"/>
<path class="b" d="M242,208Q250,222 262,224H283V219H483V224H504Q516,222 524,208" stroke-width="4.5" stroke-linejoin="round"/>
<rect class="b" x="243" y="121" width="283" height="47" stroke-width="4.5"/>
<rect class="b" x="422" y="130" width="83" height="28" stroke-width="4.5"/>
<circle cx="257" cy="134" r="4.5" fill="#fff" stroke="#000" stroke-width="3"/><circle cx="257" cy="154" r="4.5" fill="#fff" stroke="#000" stroke-width="3"/>
<rect x="547" y="125" width="178" height="9" fill="#000"/><rect x="547" y="167" width="178" height="9" fill="#000"/>
<g fill="#fff" stroke="#000" stroke-width="2.4">
<rect x="555" y="92" width="26" height="22"/><rect x="555" y="186" width="26" height="21"/><rect x="690" y="92" width="25" height="22"/><rect x="690" y="186" width="25" height="21"/>
</g>
<path d="M560,103H576M568,95V111M695,103H710M702.5,95V111M561,196.5H575M696,196.5H709" stroke="#000" stroke-width="2.4"/>
<!-- Sensor -->
<path d="M735,202H770V208H735ZM855,202H889V208H855Z" fill="#999" stroke="#000" stroke-width="1.5"/>
<path d="M727,91H899V201H727Z" fill="#fff" stroke="#000" stroke-width="4.5"/>
<path d="M727,186Q730,195 738,196H888Q897,195 899,186" fill="none" stroke="#000" stroke-width="2.5"/>
<rect x="783" y="130" width="60" height="30" fill="#fff" stroke="#000" stroke-width="3.5"/>
<circle cx="795" cy="146" r="3.5" fill="#fff" stroke="#000" stroke-width="2.5"/>
<rect x="821" y="138" width="18" height="16" fill="#fff" stroke="#000" stroke-width="3"/>

<!-- Labels -->
<g font-size="58" fill="#000">
<text x="212" y="47" textLength="333" lengthAdjust="spacingAndGlyphs">Infraroodzender</text>
<text x="638" y="55" textLength="336" lengthAdjust="spacingAndGlyphs">Infraroodsensor</text>
<text x="410" y="295" font-size="57" textLength="169" lengthAdjust="spacingAndGlyphs">Ingang</text>
<text x="726" y="291" font-size="57" textLength="191" lengthAdjust="spacingAndGlyphs">Uitgang</text>
<text x="324" y="269" font-size="33" textLength="63" lengthAdjust="spacingAndGlyphs">AUX</text>
<text x="326" y="306" font-size="33" textLength="65" lengthAdjust="spacingAndGlyphs">OUT</text>
</g>
<rect x="474" y="333" width="1087" height="168" fill="#fff" stroke="#000" stroke-width="3"/>
<text x="492" y="408" font-size="60" textLength="919" lengthAdjust="spacingAndGlyphs">Apparaat uitgerust met een REMOTE</text>
<text x="492" y="474" font-size="60" textLength="629" lengthAdjust="spacingAndGlyphs">CONTROL IN-aansluiting</text>
</svg>
</body></html>
